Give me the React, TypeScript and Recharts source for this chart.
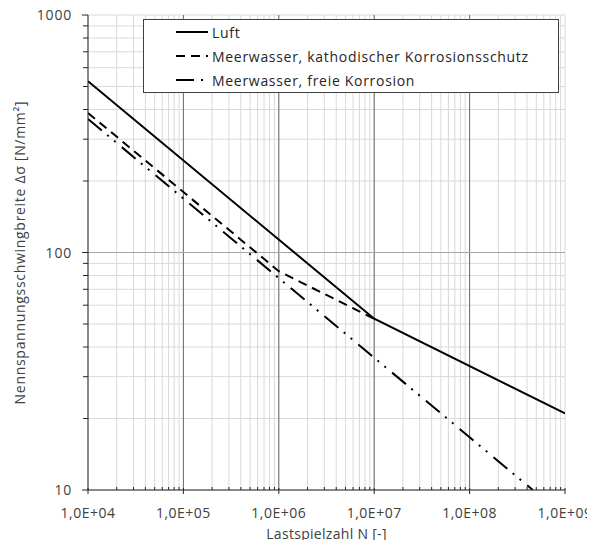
import React from "react";
import { LineChart, Line, XAxis, YAxis, CartesianGrid, ReferenceLine, Legend, Label } from "recharts";

// Series (breakpoints; straight segments in log-log)
const luftN = [1e4, 1e7, 1e9];
const luftS = [526, 52.6, 21];
const kathN = [1e4, 1e6, 1e7];
const kathS = [387, 83.4, 52.6];
const freiN = [1e4, 4.6e8];
const freiS = [365, 10];

const seriesNames = [
  "Luft",
  "Meerwasser, kathodischer Korrosionsschutz",
  "Meerwasser, freie Korrosion",
];

// Axis ticks
const xMajor = [1e4, 1e5, 1e6, 1e7, 1e8, 1e9];
const xMajorLabels = ["1,0E+04", "1,0E+05", "1,0E+06", "1,0E+07", "1,0E+08", "1,0E+09"];
const yMajor = [10, 100, 1000];
const yMajorLabels = ["10", "100", "1000"];
const minorFactors = [1, 2, 3, 4, 5, 6, 7, 8, 9];

const xTicks: number[] = [];
xMajor.slice(0, -1).forEach((d) => minorFactors.forEach((f) => xTicks.push(d * f)));
xTicks.push(1e9);
const yTicks: number[] = [];
yMajor.slice(0, -1).forEach((d) => minorFactors.forEach((f) => yTicks.push(d * f)));
yTicks.push(1000);

const toPts = (xs: number[], ys: number[]) => xs.map((x, i) => ({ x, y: ys[i] }));
const luftData = toPts(luftN, luftS);
const kathData = toPts(kathN, kathS);
const freiData = toPts(freiN, freiS);

const FONT = "'Open Sans', sans-serif";
const TXT = "#404040";
const AX = "#262626";

const XTick = (props: any) => {
  const { x, y, payload } = props;
  const v = payload.value;
  const idx = xMajor.findIndex((m) => Math.abs(m - v) / m < 1e-9);
  if (idx >= 0) {
    return (
      <g>
        <line x1={x} x2={x} y1={y - 2} y2={y + 4} stroke={AX} strokeWidth={1} />
        <text
          x={x}
          y={y + 28}
          textAnchor="middle"
          fontSize={14}
          fontFamily={FONT}
          fill={TXT}
          style={{ letterSpacing: "0.5px" }}
        >
          {xMajorLabels[idx]}
        </text>
      </g>
    );
  }
  return <line x1={x} x2={x} y1={y - 3} y2={y} stroke={AX} strokeWidth={1} />;
};

const YTick = (props: any) => {
  const { x, y, payload } = props;
  const v = payload.value;
  const idx = yMajor.findIndex((m) => Math.abs(m - v) / m < 1e-9);
  if (idx >= 0) {
    return (
      <g>
        <line x1={x - 6} x2={x} y1={y} y2={y} stroke={AX} strokeWidth={1} />
        <text
          x={x - 16}
          y={y + 5}
          textAnchor="end"
          fontSize={14}
          fontFamily={FONT}
          fill={TXT}
          style={{ letterSpacing: "0.8px" }}
        >
          {yMajorLabels[idx]}
        </text>
      </g>
    );
  }
  return <line x1={x - 5} x2={x} y1={y} y2={y} stroke={AX} strokeWidth={1} />;
};

const LegendBox = (props: any) => {
  const payload = [...(props.payload || [])].sort(
    (a: any, b: any) => seriesNames.indexOf(a.value) - seriesNames.indexOf(b.value)
  );
  return (
    <div
      style={{
        width: 416,
        height: 74,
        boxSizing: "border-box",
        border: "1px solid #404040",
        background: "#fff",
        position: "relative",
      }}
    >
      {payload.map((e: any, i: number) => (
        <div
          key={i}
          style={{
            position: "absolute",
            left: 0,
            top: 0 + i * 24,
            height: 24,
            display: "flex",
            alignItems: "center",
            whiteSpace: "nowrap",
          }}
        >
          <svg width={72} height={24} style={{ display: "block" }}>
            <line
              x1={32}
              x2={64}
              y1={12}
              y2={12}
              stroke="#000"
              strokeWidth={2}
              strokeDasharray={e.payload && e.payload.strokeDasharray}
            />
          </svg>
          <span
            style={{
              fontFamily: FONT,
              fontSize: 14,
              color: "#262626",
              marginLeft: -4,
              letterSpacing: "0.7px",
            }}
          >
            {e.value}
          </span>
        </div>
      ))}
    </div>
  );
};

export default function App() {
  return (
    <div style={{ margin: -8, width: 595, height: 548, overflow: "hidden" }}>
      <style>{`.recharts-surface { overflow: visible; }`}</style>
      <LineChart
        width={595}
        height={548}
        margin={{ top: 15, right: 30, bottom: 0, left: 0 }}
      >
        <CartesianGrid stroke="#d9d9d9" strokeWidth={1} xAxisId="x" yAxisId="y" />
        <XAxis
          xAxisId="x"
          type="number"
          dataKey="x"
          scale="log"
          domain={[1e4, 1e9]}
          allowDataOverflow
          ticks={xTicks}
          interval={0}
          tickSize={0}
          tickMargin={0}
          tickLine={false}
          tick={<XTick />}
          axisLine={{ stroke: AX, strokeWidth: 1 }}
          height={58}
        >
          <Label
            value="Lastspielzahl N [-]"
            position="insideBottom"
            offset={9}
            style={{ fontFamily: FONT, fontSize: 14, fill: TXT, letterSpacing: "0.3px" }}
          />
        </XAxis>
        <YAxis
          yAxisId="y"
          type="number"
          dataKey="y"
          scale="log"
          domain={[10, 1000]}
          allowDataOverflow
          ticks={yTicks}
          interval={0}
          tickSize={0}
          tickMargin={0}
          tickLine={false}
          tick={<YTick />}
          axisLine={{ stroke: AX, strokeWidth: 1 }}
          width={88}
        >
          <Label
            value="Nennspannungsschwingbreite Δσ [N/mm²]"
            angle={-90}
            position="insideLeft"
            offset={20}
            style={{ fontFamily: FONT, fontSize: 14, fill: TXT, textAnchor: "middle", letterSpacing: "0.7px" }}
          />
        </YAxis>
        {xMajor.slice(1, -1).map((v) => (
          <ReferenceLine key={"vx" + v} x={v} xAxisId="x" yAxisId="y" stroke="#6b6b6b" strokeWidth={1} />
        ))}
        <ReferenceLine y={100} xAxisId="x" yAxisId="y" stroke="#a6a6a6" strokeWidth={1} />
        <Legend
          layout="vertical"
          align="center"
          verticalAlign="middle"
          content={<LegendBox />}
          wrapperStyle={{ left: 143, top: 19, width: 416, height: 74 }}
        />
        <Line
          xAxisId="x"
          yAxisId="y"
          data={luftData}
          dataKey="y"
          name={seriesNames[0]}
          stroke="#000"
          strokeWidth={2}
          dot={false}
          activeDot={false}
          isAnimationActive={false}
          type="linear"
        />
        <Line
          xAxisId="x"
          yAxisId="y"
          data={kathData}
          dataKey="y"
          name={seriesNames[1]}
          stroke="#000"
          strokeWidth={2}
          strokeDasharray="9 6"
          dot={false}
          activeDot={false}
          isAnimationActive={false}
          type="linear"
        />
        <Line
          xAxisId="x"
          yAxisId="y"
          data={freiData}
          dataKey="y"
          name={seriesNames[2]}
          stroke="#000"
          strokeWidth={2}
          strokeDasharray="18 7 2 7 2 8"
          dot={false}
          activeDot={false}
          isAnimationActive={false}
          type="linear"
        />
      </LineChart>
    </div>
  );
}
